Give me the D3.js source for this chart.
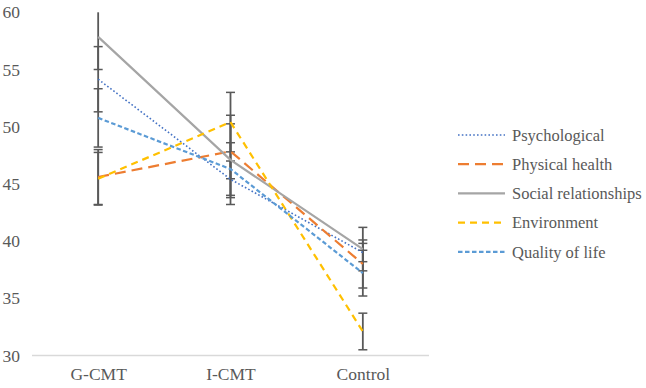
<!DOCTYPE html>
<html>
<head>
<meta charset="utf-8">
<script src="https://cdn.jsdelivr.net/npm/d3@7"></script>
<style>
  body { margin: 0; background: #fff; }
  svg { display: block; }
  svg text { font-family: "Liberation Serif", "DejaVu Serif", serif; }
</style>
</head>
<body>
<div id="chart"></div>
<script>
// data
const groups = ["G-CMT", "I-CMT", "Control"];
const seriesNames = ["Psychological", "Physical health", "Social relationships", "Environment", "Quality of life"];
const psychological = [54.15, 45.4, 39.0];
const physicalHealth = [45.6, 47.85, 38.0];
const socialRelationships = [57.85, 47.1, 39.3];
const environment = [45.45, 50.4, 32.1];
const qualityOfLife = [50.77, 46.3, 37.2];
// error bar half-widths (+/-)
const psychologicalErr = [2.85, 1.6, 0.8];
const physicalHealthErr = [2.4, 2.4, 2.1];
const socialRelationshipsErr = [2.85, 3.9, 1.9];
const environmentErr = [2.3, 2.6, 1.6];
const qualityOfLifeErr = [2.55, 2.3, 2.0];
const yTicks = [30, 35, 40, 45, 50, 55, 60];

const FONT = "Liberation Serif, DejaVu Serif, serif";

const series = [
  {name: seriesNames[0], values: psychological, err: psychologicalErr, color: "#4472C4", width: 1.6, dash: "1.6,2.2"},
  {name: seriesNames[1], values: physicalHealth, err: physicalHealthErr, color: "#ED7D31", width: 2.2, dash: "11,6"},
  {name: seriesNames[2], values: socialRelationships, err: socialRelationshipsErr, color: "#A5A5A5", width: 2.2, dash: null},
  {name: seriesNames[3], values: environment, err: environmentErr, color: "#FFC000", width: 2.2, dash: "7,5"},
  {name: seriesNames[4], values: qualityOfLife, err: qualityOfLifeErr, color: "#5B9BD5", width: 2.2, dash: "4.5,2.5"}
];

const W = 646, H = 388;
const svg = d3.select("#chart").append("svg")
  .attr("width", W)
  .attr("height", H)
  .attr("font-family", FONT);

const x = d3.scalePoint()
  .domain(groups)
  .range([32, 429])
  .padding(0.5);

const y = d3.scaleLinear()
  .domain([30, 60])
  .range([355.5, 12.3]);

// y tick labels (no axis line)
svg.append("g")
  .selectAll("text")
  .data(yTicks)
  .join("text")
  .attr("x", 20)
  .attr("y", d => y(d))
  .attr("dy", "0.35em")
  .attr("text-anchor", "end")
  .attr("fill", "#595959")
  .attr("font-family", FONT)
  .attr("font-size", 17.5)
  .text(d => d);

// x axis
const xAxis = svg.append("g")
  .attr("transform", `translate(0, ${y(30)})`)
  .call(d3.axisBottom(x).tickSize(0).tickPadding(12))
  .attr("font-family", FONT);
xAxis.select(".domain").attr("stroke", "#D9D9D9").attr("stroke-width", 1.3)
  .attr("d", "M32,0H429");
xAxis.selectAll("text")
  .attr("fill", "#595959")
  .attr("font-size", 17.5)
  .attr("font-family", FONT);

// error bars
const clamp = v => Math.max(30, Math.min(60, v));
const errG = svg.append("g");
series.forEach(s => {
  groups.forEach((g, i) => {
    const cx = x(g);
    const hi = s.values[i] + s.err[i];
    const lo = s.values[i] - s.err[i];
    errG.append("line")
      .attr("x1", cx).attr("x2", cx)
      .attr("y1", y(clamp(hi))).attr("y2", y(clamp(lo)))
      .attr("stroke", "#595959").attr("stroke-width", 1.8);
    [hi, lo].filter(v => v <= 60 && v >= 30).forEach(v => {
      errG.append("line")
        .attr("x1", cx - 4.5).attr("x2", cx + 4.5)
        .attr("y1", y(v)).attr("y2", y(v))
        .attr("stroke", "#595959").attr("stroke-width", 1.5);
    });
  });
});

// lines
const line = d3.line()
  .x((d, i) => x(groups[i]))
  .y(d => y(d));

svg.append("g")
  .selectAll("path")
  .data(series)
  .join("path")
  .attr("fill", "none")
  .attr("stroke", d => d.color)
  .attr("stroke-width", d => d.width)
  .attr("stroke-dasharray", d => d.dash)
  .attr("d", d => line(d.values));

// legend
const legend = svg.append("g")
  .selectAll("g")
  .data(series)
  .join("g")
  .attr("transform", (d, i) => `translate(458, ${135 + i * 29.2})`);

legend.append("line")
  .attr("x1", 0).attr("x2", 47)
  .attr("stroke", d => d.color)
  .attr("stroke-width", d => d.width)
  .attr("stroke-dasharray", d => d.dash);

legend.append("text")
  .attr("x", 54)
  .attr("dy", "0.35em")
  .attr("fill", "#595959")
  .attr("font-family", FONT)
  .attr("font-size", 16.5)
  .text(d => d.name);
</script>
</body>
</html>
